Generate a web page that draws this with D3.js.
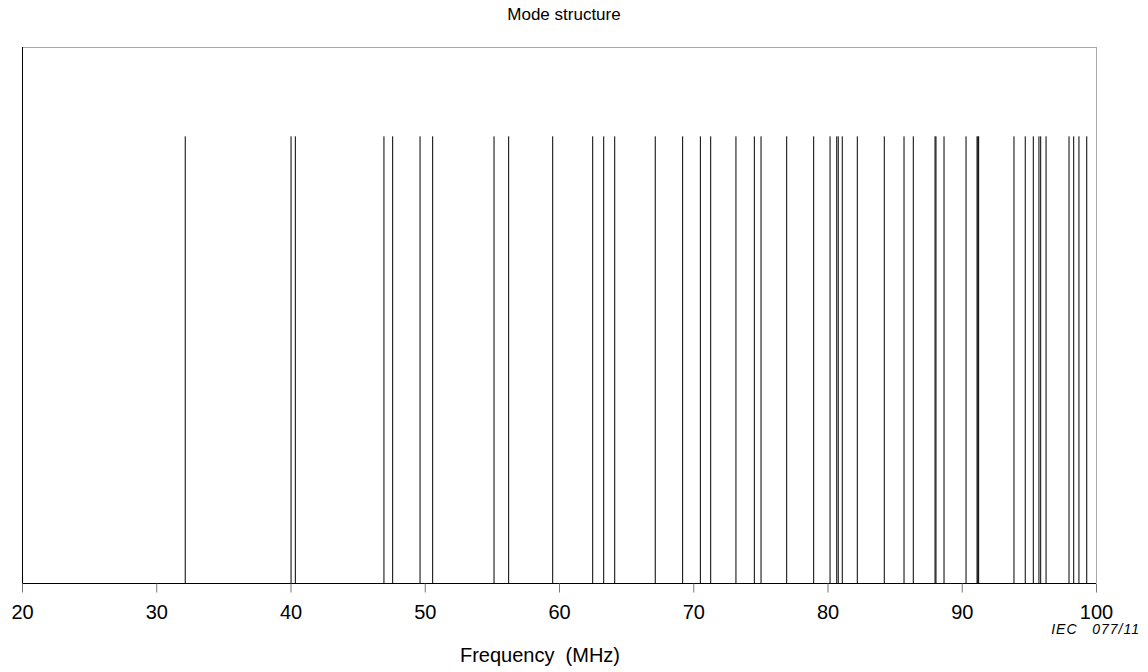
<!DOCTYPE html>
<html>
<head>
<meta charset="utf-8">
<script src="https://cdn.jsdelivr.net/npm/d3@7"></script>
<style>
  html, body { margin: 0; padding: 0; background: #fff; }
  svg { display: block; font-family: "Liberation Sans", Arial, sans-serif; }
</style>
</head>
<body>
<svg id="chart" width="1148" height="672"></svg>
<script>
// Resonant mode frequencies (MHz)
const modeFreqs = [
  32.16, 40.04, 40.36, 46.96, 47.61, 49.65, 50.59, 55.16, 56.25, 59.53,
  62.51, 63.33, 64.15, 67.17, 69.21, 70.53, 71.30, 73.18, 74.55, 75.05,
  76.96, 78.97, 80.19, 80.69, 80.80, 81.10, 82.22, 84.23, 85.70, 86.39,
  88.01, 88.08, 88.68, 90.32, 91.14, 91.20, 91.26, 93.89, 94.73, 95.33,
  95.75, 95.88, 96.28, 97.99, 98.34, 98.73, 99.31
];
// Every mode is drawn with unit amplitude
const modeAmps = modeFreqs.map(() => 1);
const xTicks = [20, 30, 40, 50, 60, 70, 80, 90, 100];
const titleText = "Mode structure";
const xLabel = "Frequency  (MHz)";
const figId = "IEC   077/11";

const svg = d3.select("#chart");
const plotL = 22, plotR = 1096, plotT = 47, plotB = 583;

const x = d3.scaleLinear().domain([20, 100]).range([plotL, plotR]);
const y = d3.scaleLinear().domain([0, 1.2]).range([plotB, plotT]);

// plot frame: grey top/right, black left
svg.append("line").attr("x1", plotL).attr("x2", plotR).attr("y1", plotT + 0.5).attr("y2", plotT + 0.5)
  .attr("stroke", "#a8a8a8").attr("stroke-width", 1);
svg.append("line").attr("x1", plotR + 0.5).attr("x2", plotR + 0.5).attr("y1", plotT).attr("y2", plotB)
  .attr("stroke", "#a8a8a8").attr("stroke-width", 1);
svg.append("line").attr("x1", plotL + 0.5).attr("x2", plotL + 0.5).attr("y1", plotT).attr("y2", plotB)
  .attr("stroke", "#000").attr("stroke-width", 1);

// mode lines
svg.append("g").selectAll("line")
  .data(modeFreqs)
  .join("line")
  .attr("x1", d => x(d)).attr("x2", d => x(d))
  .attr("y1", y(0)).attr("y2", (d, i) => y(modeAmps[i]))
  .attr("stroke", "#000").attr("stroke-width", 1);

// x axis
const axis = d3.axisBottom(x).tickValues(xTicks).tickSize(9).tickPadding(12).tickFormat(d3.format("d"));
const gx = svg.append("g").attr("transform", `translate(0,${plotB + 0.5})`).call(axis);
gx.select(".domain").attr("stroke", "#000").attr("d", `M${plotL},0H${plotR}`);
gx.selectAll(".tick line").attr("stroke", "#777");
gx.selectAll(".tick text").attr("font-size", 20).attr("fill", "#000")
  .attr("font-family", "Liberation Sans, Arial, sans-serif");

// title
svg.append("text").attr("x", 564).attr("y", 20)
  .attr("text-anchor", "middle").attr("font-size", 17).text(titleText);

// x label
svg.append("text").attr("x", 540).attr("y", 662)
  .attr("text-anchor", "middle").attr("font-size", 20)
  .style("white-space", "pre").text(xLabel);

// figure id
svg.append("text").attr("x", 1140).attr("y", 634)
  .attr("text-anchor", "end").attr("font-size", 14).attr("font-style", "italic")
  .attr("letter-spacing", 1)
  .style("white-space", "pre").text(figId);
</script>
</body>
</html>
